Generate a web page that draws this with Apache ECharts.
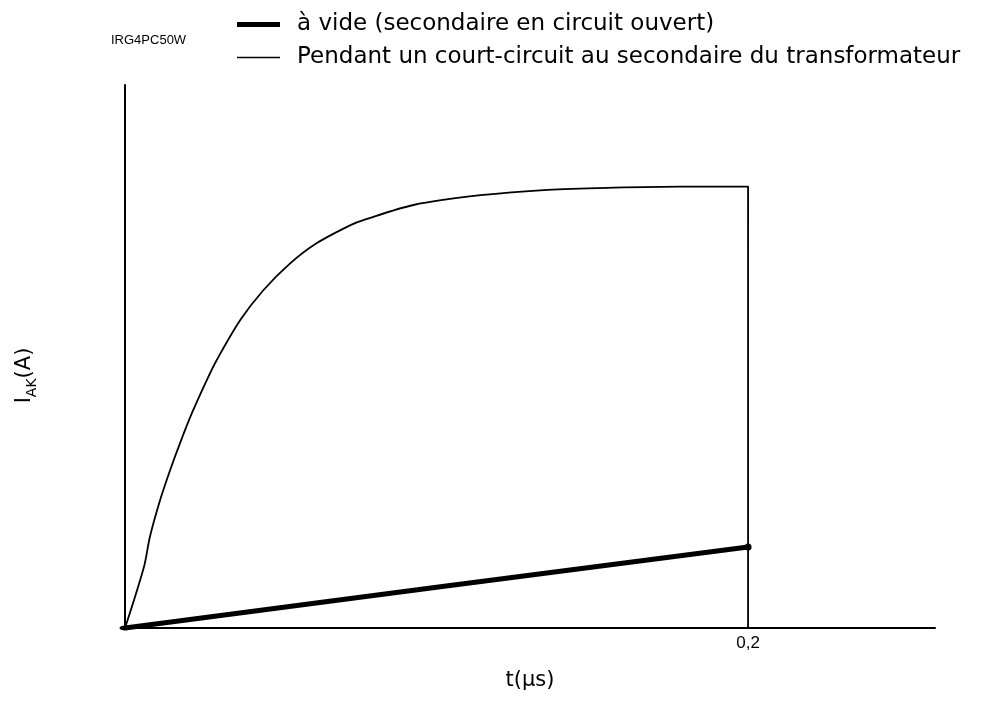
<!DOCTYPE html>
<html>
<head>
<meta charset="utf-8">
<script src="https://cdn.jsdelivr.net/npm/echarts@6/dist/echarts.min.js"></script>
<style>html,body{margin:0;padding:0;background:#fff}#c{width:988px;height:710px}</style>
</head>
<body>
<div id="c"></div>
<script>
// Data (t in µs, current in arbitrary units; no y ticks on the original)
const titleText = 'IRG4PC50W';
const seriesNames = ['à vide (secondaire en circuit ouvert)', 'Pendant un court-circuit au secondaire du transformateur'];
const xTickLabels = { 0.2: '0,2' };
const openT = [0, 0.1, 0.2];
const openI = [0, 0.075, 0.149];
const shortT = [0, 0.0061, 0.0080, 0.0113, 0.0145, 0.0177, 0.0215, 0.0263, 0.0295, 0.0370, 0.0444, 0.0531, 0.0616, 0.0724, 0.0765, 0.0926, 0.1141, 0.1357, 0.1569, 0.1785, 0.2, 0.2];
const shortI = [0, 0.113, 0.168, 0.236, 0.291, 0.341, 0.396, 0.457, 0.494, 0.567, 0.622, 0.672, 0.709, 0.742, 0.751, 0.779, 0.797, 0.807, 0.811, 0.813, 0.813, 0];

const font = 'Liberation Sans, Arial, sans-serif';
const wide = 'DejaVu Sans, sans-serif';
const chart = echarts.init(document.getElementById('c'));
const openData = openT.map((t, i) => {
  if (i === 0) return { value: [t, openI[i]], symbol: 'circle', symbolSize: [11, 5] };
  if (i === openT.length - 1) return { value: [t, openI[i]], symbol: 'circle', symbolSize: 7 };
  return [t, openI[i]];
});
const shortData = shortT.map((t, i) => [t, shortI[i]]);

chart.setOption({
  animation: false,
  backgroundColor: '#fff',
  title: {
    text: titleText, left: 106, top: 29,
    textStyle: { fontFamily: font, fontSize: 13, fontWeight: 'normal', color: '#000' }
  },
  legend: {
    orient: 'vertical', left: 232, top: 8,
    itemWidth: 43, itemHeight: 14, itemGap: 10,
    textStyle: { fontFamily: wide, fontSize: 23, color: '#000', padding: [0, 0, 0, 12] },
    data: [
      { name: seriesNames[0], icon: 'path://M0,0H43V5H0Z' },
      { name: seriesNames[1], icon: 'path://M0,0H43V1.4H0Z' }
    ]
  },
  grid: { left: 125, right: 53, top: 85, bottom: 82 },
  xAxis: {
    type: 'value', min: 0, max: 0.26, interval: 0.1,
    name: 't(μs)', nameLocation: 'middle', nameGap: 42,
    nameTextStyle: { fontFamily: wide, fontSize: 21, color: '#000' },
    axisLine: { lineStyle: { color: '#000', width: 2 } },
    axisTick: { show: false },
    splitLine: { show: false },
    axisLabel: {
      fontFamily: font, fontSize: 17, color: '#000', margin: 7,
      showMaxLabel: false,
      formatter: v => { for (const k in xTickLabels) { if (Math.abs(v - Number(k)) < 1e-9) return xTickLabels[k]; } return ''; }
    }
  },
  yAxis: {
    type: 'value', min: 0, max: 1,
    name: '{a|I}{b|AK}{a|(A)}', nameLocation: 'middle', nameRotate: 90, nameGap: 86,
    nameTextStyle: {
      fontFamily: wide, color: '#000', padding: [0, 38, 0, 0],
      rich: {
        a: { fontFamily: wide, fontSize: 21, color: '#000', lineHeight: 28 },
        b: { fontFamily: wide, fontSize: 14, color: '#000', lineHeight: 14, verticalAlign: 'bottom' }
      }
    },
    axisLine: { lineStyle: { color: '#000', width: 2 } },
    axisTick: { show: false },
    axisLabel: { show: false },
    splitLine: { show: false }
  },
  series: [
    {
      name: seriesNames[0], type: 'line', data: openData,
      symbol: 'circle', symbolSize: 0, showSymbol: true,
      itemStyle: { color: '#000' },
      lineStyle: { color: '#000', width: 5 }
    },
    {
      name: seriesNames[1], type: 'line', data: shortData, smooth: 0.3,
      symbol: 'none',
      itemStyle: { color: '#000' },
      lineStyle: { color: '#000', width: 1.8 }
    }
  ]
});
</script>
</body>
</html>
